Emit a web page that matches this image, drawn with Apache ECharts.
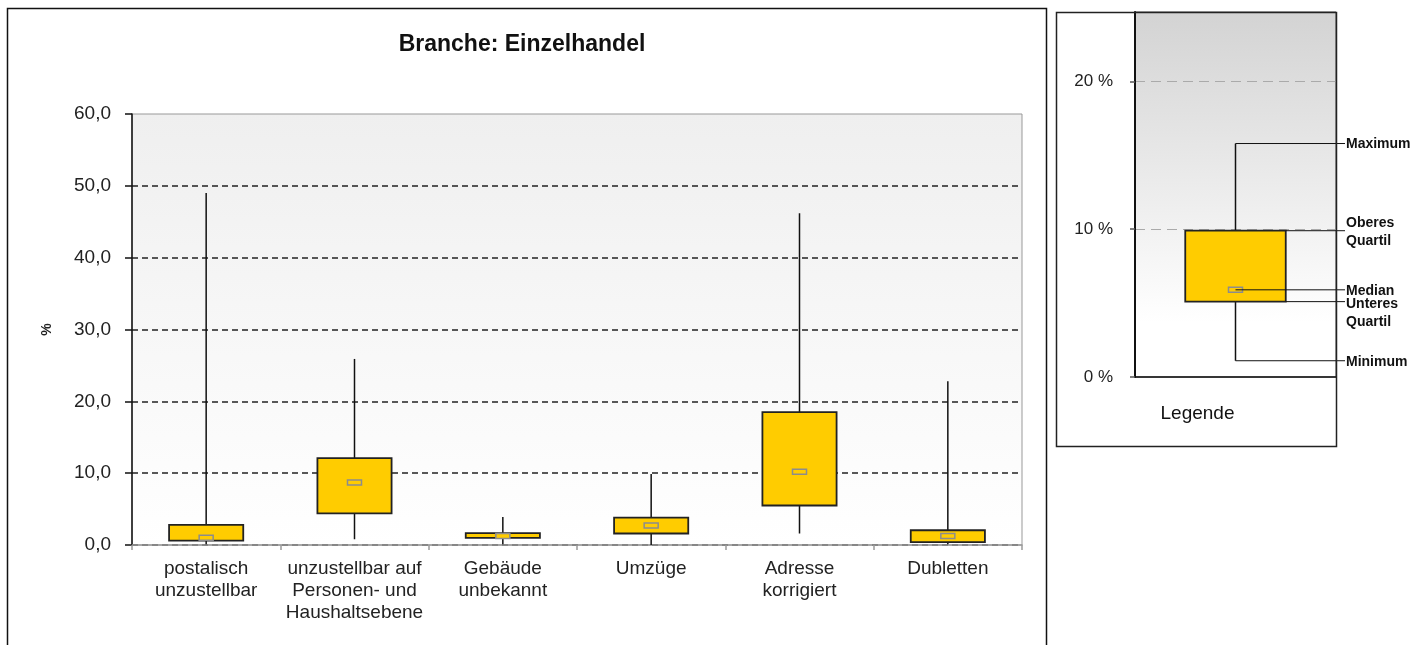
<!DOCTYPE html>
<html>
<head>
<meta charset="utf-8">
<script src="https://cdn.jsdelivr.net/npm/echarts@6/dist/echarts.min.js"></script>
<style>
  html, body { margin: 0; padding: 0; background: #fff; }
  #chart { width: 1410px; height: 645px; }
</style>
</head>
<body>
<div id="chart"></div>
<script>
var categories = ['postalisch\nunzustellbar', 'unzustellbar auf\nPersonen- und\nHaushaltsebene', 'Gebäude\nunbekannt', 'Umzüge', 'Adresse\nkorrigiert', 'Dubletten'];
var minValues = [0.1, 0.8, 0.1, 0.0, 1.6, 0.1];
var q1Values = [0.6, 4.4, 1.0, 1.6, 5.5, 0.4];
var medianValues = [1.0, 8.7, 1.25, 2.7, 10.2, 1.25];
var q3Values = [2.8, 12.1, 1.65, 3.8, 18.5, 2.05];
var maxValues = [49.0, 25.9, 3.9, 9.9, 46.2, 22.8];
var yTicks = [0, 10, 20, 30, 40, 50, 60];

// legend example box: min, Q1, median, Q3, max
var legendCategory = ['Legende'];
var legendValues = [1.1, 5.1, 5.9, 9.9, 15.8];
var legendLabels = ['Minimum', 'Unteres\nQuartil', 'Median', 'Oberes\nQuartil', 'Maximum'];
var legendTicks = [0, 10, 20];

var FONT = 'Liberation Sans, Arial, sans-serif';
var YELLOW = '#ffcc00';

function boxShapes(api, x, v) {
  var pMin = api.coord([x, v[0]]);
  var pQ1 = api.coord([x, v[1]]);
  var pMed = api.coord([x, v[2]]);
  var pQ3 = api.coord([x, v[3]]);
  var pMax = api.coord([x, v[4]]);
  var bw = api.size([1, 0])[0] * 0.5;
  var cx = pMed[0];
  return {
    pts: { min: pMin, q1: pQ1, med: pMed, q3: pQ3, max: pMax, cx: cx, bw: bw },
    children: [
      { type: 'line', shape: { x1: cx, y1: pMax[1], x2: cx, y2: pMin[1] },
        style: { stroke: '#111', lineWidth: 1.5 } },
      { type: 'rect', shape: { x: cx - bw / 2, y: pQ3[1], width: bw, height: pQ1[1] - pQ3[1] },
        style: { fill: YELLOW, stroke: '#222', lineWidth: 1.8 } },
      { type: 'rect', shape: { x: cx - 7, y: pMed[1] - 2.5, width: 14, height: 5 },
        style: { fill: YELLOW, stroke: '#8c8c8c', lineWidth: 1.5 } }
    ]
  };
}

function renderMain(params, api) {
  var x = api.value(0);
  var v = [api.value(1), api.value(2), api.value(3), api.value(4), api.value(5)];
  return { type: 'group', children: boxShapes(api, x, v).children };
}

function renderLegend(params, api) {
  var v = [api.value(1), api.value(2), api.value(3), api.value(4), api.value(5)];
  var b = boxShapes(api, api.value(0), v);
  var p = b.pts;
  var endX = params.coordSys.x + params.coordSys.width + 9;
  var right = p.cx + p.bw / 2;
  var starts = [[p.cx, p.min[1]], [right, p.q1[1]], [p.cx, p.med[1]], [right, p.q3[1]], [p.cx, p.max[1]]];
  var aligns = ['middle', 'top', 'middle', 'middle', 'middle'];
  var ch = b.children.slice();
  for (var i = 0; i < starts.length; i++) {
    ch.push({ type: 'line', shape: { x1: starts[i][0], y1: starts[i][1], x2: endX, y2: starts[i][1] },
      style: { stroke: '#111', lineWidth: 1 } });
    ch.push({ type: 'text', x: endX + 1, y: starts[i][1] + (aligns[i] === 'top' ? -6 : 1),
      style: { text: legendLabels[i], fill: '#111', font: 'bold 14px ' + FONT,
        verticalAlign: aligns[i], lineHeight: 18 } });
  }
  return { type: 'group', children: ch };
}

var chart = echarts.init(document.getElementById('chart'));
chart.setOption({
  animation: false,
  backgroundColor: '#fff',
  grid: [
    { left: 132, top: 114, width: 890, height: 431, show: true, borderColor: '#999', borderWidth: 1,
      backgroundColor: new echarts.graphic.LinearGradient(0, 0, 0, 1, [
        { offset: 0, color: '#efefef' }, { offset: 1, color: '#ffffff' }]) },
    { left: 1135, top: 12, width: 201, height: 365, show: true, borderColor: '#555', borderWidth: 1,
      backgroundColor: new echarts.graphic.LinearGradient(0, 0, 0, 1, [
        { offset: 0, color: '#d3d3d3' }, { offset: 0.85, color: '#ffffff' }, { offset: 1, color: '#ffffff' }]) }
  ],
  xAxis: [
    { type: 'category', gridIndex: 0, data: categories,
      axisLine: { lineStyle: { color: '#9a9a9a', width: 1.5 } },
      axisTick: { show: true, length: 5, lineStyle: { color: '#9a9a9a', width: 1.5 } },
      axisLabel: { interval: 0, margin: 13, fontFamily: FONT, fontSize: 19, lineHeight: 22, color: '#222' } },
    { type: 'category', gridIndex: 1, data: legendCategory,
      axisLine: { lineStyle: { color: '#111', width: 1.5 } },
      axisTick: { show: false },
      axisLabel: { margin: 27, fontFamily: FONT, fontSize: 19, color: '#111', padding: [0, 76, 0, 0] } }
  ],
  yAxis: [
    { type: 'value', gridIndex: 0, min: 0, max: 60, interval: 10,
      name: '%', nameLocation: 'middle', nameGap: 78, nameRotate: 90,
      nameTextStyle: { fontFamily: FONT, fontSize: 14, fontWeight: 'bold', color: '#222' },
      axisLine: { show: true, lineStyle: { color: '#111', width: 1.5 } },
      axisTick: { show: true, length: 7, lineStyle: { color: '#111', width: 1.5 } },
      axisLabel: { margin: 21, fontFamily: FONT, fontSize: 19, color: '#222',
        formatter: function (v) { return yTicks.indexOf(v) >= 0 ? v.toFixed(1).replace('.', ',') : ''; } },
      splitLine: { show: true, showMaxLine: false, lineStyle: { color: '#222', type: [6, 4], width: 1.5 } } },
    { type: 'value', gridIndex: 1, min: 0, max: 24.7, interval: 10,
      axisLine: { show: true, lineStyle: { color: '#111', width: 2 } },
      axisTick: { show: true, length: 5, customValues: legendTicks, lineStyle: { color: '#555', width: 1.5 } },
      axisLabel: { margin: 22, fontFamily: FONT, fontSize: 17, color: '#222', customValues: legendTicks,
        formatter: function (v) { return v + ' %'; } },
      splitLine: { show: true, lineStyle: { color: '#aaa', type: [10, 6], width: 1.2 } } }
  ],
  series: [
    { type: 'custom', xAxisIndex: 0, yAxisIndex: 0, renderItem: renderMain,
      encode: { x: 0, y: [1, 2, 3, 4, 5] },
      data: categories.map(function (c, i) {
        return [i, minValues[i], q1Values[i], medianValues[i], q3Values[i], maxValues[i]];
      }) },
    { type: 'custom', xAxisIndex: 1, yAxisIndex: 1, renderItem: renderLegend, clip: false,
      encode: { x: 0, y: [1, 2, 3, 4, 5] },
      data: [[0].concat(legendValues)] }
  ],
  graphic: [
    { type: 'text', x: 522, y: 45, z: 10,
      style: { text: 'Branche: Einzelhandel', font: 'bold 23px ' + FONT, fill: '#111',
        textAlign: 'center', textVerticalAlign: 'middle' } },
    { type: 'rect', z: 10, shape: { x: 7.5, y: 8.5, width: 1039, height: 660 },
      style: { fill: 'none', stroke: '#111', lineWidth: 1.5 } },
    { type: 'rect', z: 10, shape: { x: 1056.5, y: 12.5, width: 280, height: 434 },
      style: { fill: 'none', stroke: '#222', lineWidth: 1.5 } }
  ]
});
</script>
</body>
</html>
